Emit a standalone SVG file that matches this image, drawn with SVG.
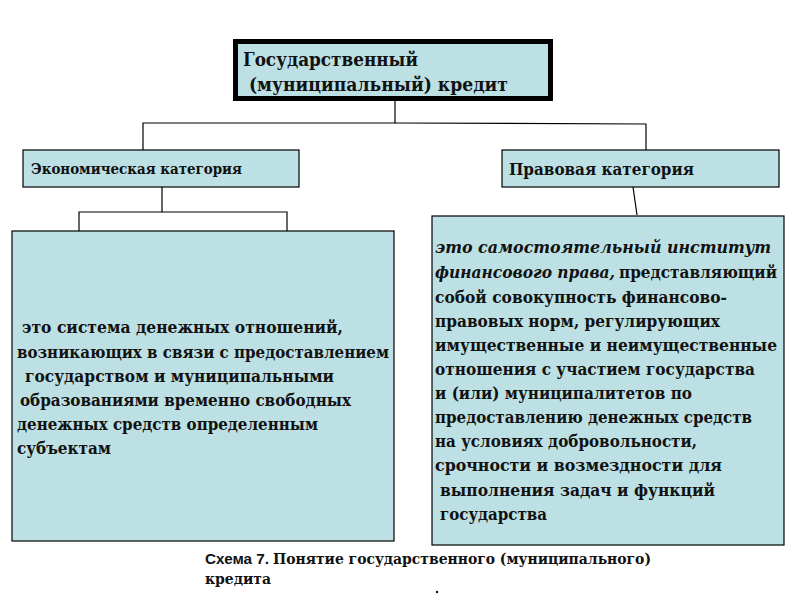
<svg xmlns="http://www.w3.org/2000/svg" width="800" height="600" viewBox="0 0 800 600">
<style>
.box{fill:#BCE0E3;stroke:#000;stroke-width:1.2}
.t{font-family:'DejaVu Serif','Liberation Serif',serif;font-weight:bold;fill:#111}
.b{font-size:16px}
.i{font-style:italic}
.c{fill:none;stroke:#000;stroke-width:1.2}
</style>
<rect width="800" height="600" fill="#fff"/>
<g id="connectors">
<polyline class="c" points="395,101 395,123 143,123 143,150"/>
<polyline class="c" points="395,123 646,124 646,150"/>
<polyline class="c" points="162,187 162,212 79,212 79,231"/>
<polyline class="c" points="162,212 287,212 287,231"/>
<line class="c" x1="633" y1="187" x2="637" y2="215"/>
</g>
<g id="root">
<rect x="235.5" y="41.5" width="315" height="57" fill="#BCE0E3" stroke="#000" stroke-width="5"/>
<text class="t" x="243" y="66" font-size="18" textLength="175" lengthAdjust="spacingAndGlyphs">Государственный</text>
<text class="t" x="249" y="91" font-size="18" textLength="259" lengthAdjust="spacingAndGlyphs">(муниципальный) кредит</text>
</g>
<g id="econ">
<rect class="box" x="23" y="150" width="276" height="37"/>
<text class="t" x="31" y="174" font-size="15" textLength="211" lengthAdjust="spacingAndGlyphs">Экономическая категория</text>
</g>
<g id="legal">
<rect class="box" x="502" y="150" width="277" height="37"/>
<text class="t" x="509" y="175" font-size="16" textLength="185" lengthAdjust="spacingAndGlyphs">Правовая категория</text>
</g>
<g id="econ-def">
<rect class="box" x="12" y="231" width="382" height="310"/>
<g class="t b">
<text x="22" y="333" textLength="321" lengthAdjust="spacingAndGlyphs">это система  денежных  отношений,</text>
<text x="17" y="358" textLength="372" lengthAdjust="spacingAndGlyphs">возникающих в связи с предоставлением</text>
<text x="25" y="382" textLength="309" lengthAdjust="spacingAndGlyphs">государством и муниципальными</text>
<text x="20" y="406" textLength="331" lengthAdjust="spacingAndGlyphs">образованиями временно свободных</text>
<text x="17" y="430" textLength="301" lengthAdjust="spacingAndGlyphs">денежных средств определенным</text>
<text x="17" y="454" textLength="94" lengthAdjust="spacingAndGlyphs">субъектам</text>
</g>
</g>
<g id="legal-def">
<rect class="box" x="432" y="216" width="352" height="329"/>
<g class="t b">
<text class="i" x="435" y="253" textLength="336" lengthAdjust="spacingAndGlyphs">это  самостоятельный институт</text>
<text class="i" x="435" y="278" textLength="180" lengthAdjust="spacingAndGlyphs">финансового  права,</text>
<text x="619" y="278" textLength="158" lengthAdjust="spacingAndGlyphs">представляющий</text>
<text x="435" y="303" textLength="292" lengthAdjust="spacingAndGlyphs">собой совокупность финансово-</text>
<text x="435" y="327" textLength="285" lengthAdjust="spacingAndGlyphs">правовых норм, регулирующих</text>
<text x="435" y="351" textLength="342" lengthAdjust="spacingAndGlyphs">имущественные  и неимущественные</text>
<text x="435" y="375" textLength="320" lengthAdjust="spacingAndGlyphs">отношения с участием  государства</text>
<text x="435" y="399" textLength="257" lengthAdjust="spacingAndGlyphs">и (или) муниципалитетов по</text>
<text x="435" y="423" textLength="317" lengthAdjust="spacingAndGlyphs">предоставлению денежных средств</text>
<text x="435" y="447" textLength="262" lengthAdjust="spacingAndGlyphs">на условиях добровольности,</text>
<text x="435" y="471" textLength="287" lengthAdjust="spacingAndGlyphs">срочности   и возмездности  для</text>
<text x="440" y="496" textLength="275" lengthAdjust="spacingAndGlyphs">выполнения  задач и функций</text>
<text x="440" y="520" textLength="107" lengthAdjust="spacingAndGlyphs">государства</text>
</g>
</g>
<g id="caption">
<text x="205" y="564" font-family="'Liberation Sans',Arial,sans-serif" font-weight="bold" font-size="14" fill="#111" textLength="64" lengthAdjust="spacingAndGlyphs">Схема 7.</text>
<text class="t" x="273" y="564" font-size="14" textLength="378" lengthAdjust="spacingAndGlyphs">Понятие государственного (муниципального)</text>
<text class="t" x="205" y="584" font-size="14" textLength="66" lengthAdjust="spacingAndGlyphs">кредита</text>
<circle cx="437" cy="592" r="1.2" fill="#111"/>
</g>
</svg>
